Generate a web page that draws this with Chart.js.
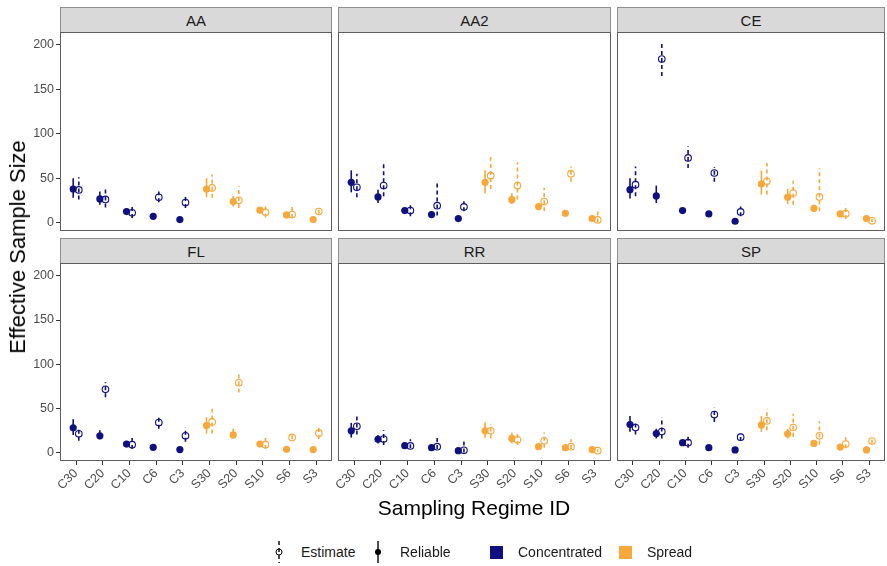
<!DOCTYPE html>
<html>
<head>
<meta charset="utf-8">
<script src="https://cdn.jsdelivr.net/npm/chart.js@4.4.0/dist/chart.umd.min.js"></script>
<style>
  body { margin: 0; background: #fff; font-family: "Liberation Sans", Arial, sans-serif; }
  #wrap { position: relative; width: 887px; height: 566px; overflow: hidden; }
  #wrap canvas { position: absolute; }
  .strip { position: absolute; background: #d9d9d9; border: 1px solid #8f8f8f; border-bottom: none;
           box-sizing: border-box; text-align: center; font-size: 15px; color: #1a1a1a; }
  .title { position: absolute; color: #000; white-space: nowrap; }
  .leg { position: absolute; font-size: 14px; color: #1a1a1a; white-space: nowrap; }
  .sw { position: absolute; width: 13px; height: 13px; }
</style>
</head>
<body>
<div id="wrap"></div>
<script>
// categories on the x axis, and which group each belongs to
const regimes = ['C30', 'C20', 'C10', 'C6', 'C3', 'S30', 'S20', 'S10', 'S6', 'S3'];
const regimeGroup = ['Concentrated', 'Concentrated', 'Concentrated', 'Concentrated', 'Concentrated',
                     'Spread', 'Spread', 'Spread', 'Spread', 'Spread'];
const yTickValues = [0, 50, 100, 150, 200];
const facetNames = ['AA', 'AA2', 'CE', 'FL', 'RR', 'SP'];

// AA
const aaRel   = [37.8, 26.6, 12.4, 7, 3.4, 37.8, 23.6, 13.9, 8.6, 3.4];
const aaRelLo = [28, 20, 10, 6, 2.5, 28.5, 18, 11.5, 7.5, 2.5];
const aaRelHi = [50, 35, 15, 8, 4.3, 50, 30, 16, 9.7, 4.3];
const aaEst   = [36.7, 26, 11, 28.5, 22.5, 39, 25, 11.6, 9, 12.4];
const aaEstLo = [26, 17, 5, 23, 16.5, 28, 16.5, 5.6, 5, 10];
const aaEstHi = [51, 40, 20.6, 35, 30, 54, 41, 21, 19, 15];

// AA2
const aa2Rel   = [45.3, 28.8, 13.5, 9, 4.5, 45.3, 25.8, 18, 10.5, 4.5];
const aa2RelLo = [34, 22, 11.5, 8, 3.5, 33, 21, 14.5, 9.5, 3.5];
const aa2RelHi = [58.8, 37, 15.5, 10, 5.5, 58.8, 33, 21.5, 11.5, 5.5];
const aa2Est   = [39.7, 41.6, 13.5, 19, 17.6, 52.8, 41.6, 23.6, 55, 3];
const aa2EstLo = [28.5, 29.6, 7, 8, 12.7, 37.8, 26, 12.7, 46, 0];
const aa2EstHi = [55, 68, 22, 45, 24, 73.8, 68, 39, 63, 14.6];

// CE
const ceRel   = [37, 30, 13.5, 9.7, 1.5, 43.4, 28.5, 16, 9.7, 4.5];
const ceRelLo = [27, 22, 12, 8.7, 0.5, 31.5, 21, 12.5, 8.7, 3.5];
const ceRelHi = [50, 41.6, 15, 10.7, 2.5, 58.4, 38, 20, 10.7, 5.5];
const ceEst   = [42.7, 184, 72.7, 55.8, 12, 46.4, 33.3, 28.8, 10, 1.9];
const ceEstLo = [29.6, 165, 61.4, 46, 7, 31.5, 20, 12.7, 4, 0.5];
const ceEstHi = [63, 202.6, 85.8, 62.5, 18, 67, 47, 61, 20, 4];

// FL
const flRel   = [28, 19, 9.7, 6, 3.4, 30.6, 20, 9.7, 3.7, 3.4];
const flRelLo = [19.8, 15, 8.7, 5, 2.4, 21.6, 16, 8.7, 2.7, 2.4];
const flRelHi = [37.7, 25.4, 10.7, 7, 4.4, 40, 27, 10.7, 4.7, 4.4];
const flEst   = [21.3, 71.6, 9, 34, 19, 34.7, 79, 9, 17.2, 22];
const flEstLo = [13.4, 62.7, 4, 27, 12.3, 21.6, 68, 4, 15, 15.3];
const flEstHi = [29, 79.5, 19.8, 41.4, 28.4, 49.6, 90.6, 19.8, 19.5, 30];

// RR
const rrRel   = [24.6, 15, 7.8, 5.6, 2.2, 24.6, 16, 6.7, 5.6, 3.4];
const rrRelLo = [17, 10.4, 6.8, 4.6, 1.2, 16.8, 10.4, 5.7, 4.6, 2.4];
const rrRelHi = [33.6, 19.8, 8.8, 6.6, 3.2, 34, 22.8, 7.7, 6.6, 4.4];
const rrEst   = [29.8, 15.3, 7.5, 6.7, 2.6, 24.6, 14.5, 13.4, 6.7, 2.2];
const rrEstLo = [20.5, 8.6, 5, 4, 0, 16, 8.6, 5.6, 4, 1];
const rrEstHi = [42, 25.4, 15, 16.8, 16, 32.5, 23.5, 22.8, 15, 3.5];

// SP
const spRel   = [31.7, 21.6, 11.2, 5.6, 3, 31.3, 21.3, 10.4, 6.3, 3];
const spRelLo = [23.5, 16, 10, 4.6, 2, 23.5, 16, 9.4, 5.3, 2];
const spRelHi = [41.4, 27, 12.4, 6.6, 4, 41.4, 27, 11.4, 7.3, 4];
const spEst   = [28.4, 23.9, 11.2, 43, 17.5, 35.8, 28.4, 19, 9.7, 13];
const spEstLo = [20.5, 16, 5.6, 34.7, 13, 25.4, 18, 9.3, 4.8, 10.4];
const spEstHi = [35.8, 40, 20.5, 50.7, 21.6, 49.6, 44, 35.4, 19.8, 16];

const facets = [
  { rel: aaRel, relLo: aaRelLo, relHi: aaRelHi, est: aaEst, estLo: aaEstLo, estHi: aaEstHi },
  { rel: aa2Rel, relLo: aa2RelLo, relHi: aa2RelHi, est: aa2Est, estLo: aa2EstLo, estHi: aa2EstHi },
  { rel: ceRel, relLo: ceRelLo, relHi: ceRelHi, est: ceEst, estLo: ceEstLo, estHi: ceEstHi },
  { rel: flRel, relLo: flRelLo, relHi: flRelHi, est: flEst, estLo: flEstLo, estHi: flEstHi },
  { rel: rrRel, relLo: rrRelLo, relHi: rrRelHi, est: rrEst, estLo: rrEstLo, estHi: rrEstHi },
  { rel: spRel, relLo: spRelLo, relHi: spRelHi, est: spEst, estLo: spEstLo, estHi: spEstHi }
];

const groupColor = { Concentrated: '#0f0f80', Spread: '#f8a73a' };
const pointColors = regimeGroup.map(g => groupColor[g]);

// panel geometry (pixels)
const colLeft = [60, 338, 617];
const colRight = [332, 611, 885];
const rowTop = [32, 263];
const rowBottom = [231, 461];
const dodge = 0.105;

const wrap = document.getElementById('wrap');
const tickFont = { family: '"Liberation Sans", Arial, sans-serif', size: 12.5 };

// error bars + panel border
const errorBars = {
  id: 'errorBars',
  beforeDatasetsDraw(chart) {
    const f = chart.options.plugins.errorBars.facet;
    const ctx = chart.ctx;
    const xs = chart.scales.x, ys = chart.scales.y;
    ctx.save();
    ctx.beginPath();
    ctx.rect(chart.chartArea.left, chart.chartArea.top, chart.chartArea.width, chart.chartArea.height);
    ctx.clip();
    ctx.lineWidth = 1.6;
    regimes.forEach((r, i) => {
      ctx.strokeStyle = pointColors[i];
      let x = xs.getPixelForValue(i - dodge);
      ctx.setLineDash([]);
      ctx.beginPath();
      ctx.moveTo(x, ys.getPixelForValue(f.relLo[i]));
      ctx.lineTo(x, ys.getPixelForValue(f.relHi[i]));
      ctx.stroke();
      x = xs.getPixelForValue(i + dodge);
      ctx.setLineDash([4, 3]);
      ctx.beginPath();
      ctx.moveTo(x, ys.getPixelForValue(f.estLo[i]));
      ctx.lineTo(x, ys.getPixelForValue(f.estHi[i]));
      ctx.stroke();
    });
    ctx.restore();
  },
  afterDraw(chart) {
    const a = chart.chartArea;
    const ctx = chart.ctx;
    ctx.save();
    ctx.strokeStyle = '#5e5e5e';
    ctx.lineWidth = 1;
    ctx.strokeRect(a.left + 0.5, a.top + 0.5, a.width - 1, a.height - 1);
    ctx.restore();
  }
};

function makePanel(idx) {
  const r = Math.floor(idx / 3), c = idx % 3;
  const f = facets[idx];
  const axisW = c === 0 ? 60 : 30;
  const axisH = r === 1 ? 46 : 0;
  const plotW = colRight[c] - colLeft[c];
  const plotH = rowBottom[r] - rowTop[r];

  const strip = document.createElement('div');
  strip.className = 'strip';
  strip.style.left = colLeft[c] + 'px';
  strip.style.top = (rowTop[r] - 25) + 'px';
  strip.style.width = plotW + 'px';
  strip.style.height = '25px';
  strip.style.lineHeight = '25px';
  strip.textContent = facetNames[idx];
  wrap.appendChild(strip);

  const canvas = document.createElement('canvas');
  const w = axisW + plotW + 2, h = 2 + plotH + axisH + 2;
  canvas.width = w; canvas.height = h;
  canvas.style.width = w + 'px'; canvas.style.height = h + 'px';
  canvas.style.left = (colLeft[c] - axisW) + 'px';
  canvas.style.top = (rowTop[r] - 2) + 'px';
  wrap.appendChild(canvas);

  new Chart(canvas, {
    type: 'scatter',
    data: {
      datasets: [
        {
          label: 'Reliable',
          data: f.rel.map((v, i) => ({ x: i - dodge, y: v })),
          pointRadius: 3.6,
          pointBackgroundColor: pointColors,
          pointBorderWidth: 0,
          pointBorderColor: pointColors
        },
        {
          label: 'Estimate',
          data: f.est.map((v, i) => ({ x: i + dodge, y: v })),
          pointRadius: 3.3,
          pointBackgroundColor: 'rgba(255,255,255,0)',
          pointBorderWidth: 1.1,
          pointBorderColor: pointColors
        }
      ]
    },
    options: {
      responsive: false,
      animation: false,
      devicePixelRatio: 1,
      layout: { autoPadding: false, padding: { top: 2, right: 2, bottom: 2, left: 0 } },
      plugins: {
        legend: { display: false },
        tooltip: { enabled: false },
        errorBars: { facet: f }
      },
      scales: {
        x: {
          type: 'linear',
          min: -0.6,
          max: 9.6,
          afterBuildTicks: s => { s.ticks = regimes.map((_, i) => ({ value: i })); },
          afterFit: s => { s.height = axisH; s.paddingLeft = 0; s.paddingRight = 0; },
          border: { display: false },
          grid: { display: r === 1, drawOnChartArea: false, tickLength: 4, tickColor: '#333', tickWidth: 1 },
          ticks: {
            display: r === 1,
            autoSkip: false,
            minRotation: 45,
            maxRotation: 45,
            padding: 1,
            color: '#4d4d4d',
            font: tickFont,
            callback: v => regimes[Math.round(v)]
          }
        },
        y: {
          type: 'linear',
          min: -9.5,
          max: 214.5,
          afterBuildTicks: s => { s.ticks = yTickValues.map(v => ({ value: v })); },
          afterFit: s => { s.width = axisW; s.paddingTop = 0; s.paddingBottom = 0; },
          border: { display: false },
          grid: { display: c === 0, drawOnChartArea: false, tickLength: 4, tickColor: '#333', tickWidth: 1 },
          ticks: {
            display: c === 0,
            padding: 2,
            color: '#4d4d4d',
            font: tickFont
          }
        }
      }
    },
    plugins: [errorBars]
  });
}

facetNames.forEach((_, i) => makePanel(i));

// axis titles
const yTitle = document.createElement('div');
yTitle.className = 'title';
yTitle.textContent = 'Effective Sample Size';
yTitle.style.fontSize = '22px';
yTitle.style.left = '18px';
yTitle.style.top = '247px';
yTitle.style.transform = 'translate(-50%, -50%) rotate(-90deg)';
wrap.appendChild(yTitle);

const xTitle = document.createElement('div');
xTitle.className = 'title';
xTitle.textContent = 'Sampling Regime ID';
xTitle.style.fontSize = '21px';
xTitle.style.left = '474px';
xTitle.style.top = '508px';
xTitle.style.transform = 'translate(-50%, -50%)';
wrap.appendChild(xTitle);

// legend
function legendKey(x, dashed, filled) {
  const k = document.createElement('canvas');
  k.width = 12; k.height = 24;
  k.style.left = (x - 6) + 'px';
  k.style.top = '540px';
  const g = k.getContext('2d');
  g.strokeStyle = '#000';
  g.lineWidth = 1.4;
  g.setLineDash(dashed ? [4, 3] : []);
  g.beginPath(); g.moveTo(6, 1); g.lineTo(6, 23); g.stroke();
  g.setLineDash([]);
  g.beginPath(); g.arc(6, 12, 3, 0, Math.PI * 2);
  if (filled) { g.fillStyle = '#000'; g.fill(); }
  else { g.lineWidth = 1; g.stroke(); }
  wrap.appendChild(k);
}
function legendText(x, text) {
  const t = document.createElement('div');
  t.className = 'leg';
  t.textContent = text;
  t.style.left = x + 'px';
  t.style.top = '544px';
  wrap.appendChild(t);
}
function legendSwatch(x, color) {
  const s = document.createElement('div');
  s.className = 'sw';
  s.style.left = x + 'px';
  s.style.top = '546px';
  s.style.background = color;
  wrap.appendChild(s);
}
legendKey(279, true, false);
legendText(301, 'Estimate');
legendKey(378, false, true);
legendText(400, 'Reliable');
legendSwatch(490, groupColor.Concentrated);
legendText(518, 'Concentrated');
legendSwatch(619, groupColor.Spread);
legendText(647, 'Spread');
</script>
</body>
</html>
